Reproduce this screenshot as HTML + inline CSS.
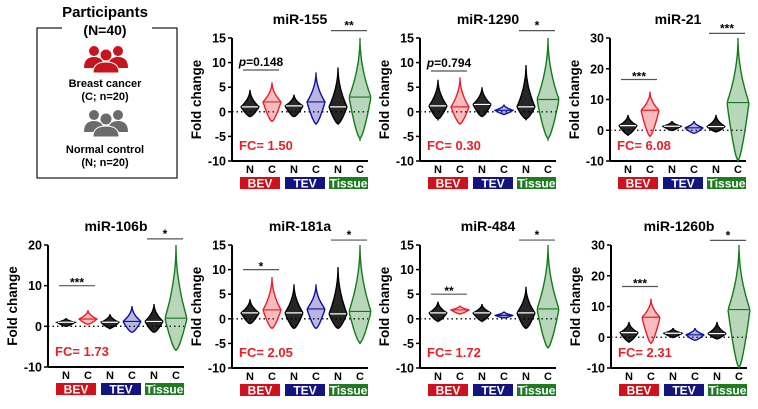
<!DOCTYPE html>
<html><head><meta charset="utf-8"><style>
body{margin:0;background:#fff}
svg{display:block;font-family:"Liberation Sans",Arial,sans-serif;font-weight:bold}
</style></head><body>
<svg id="fig" width="758" height="409" viewBox="0 0 758 409">
<g>
<path d="M62 28 H37 V178 H177 V28 H152" fill="none" stroke="#222" stroke-width="1.3"/>
<text x="105" y="17" text-anchor="middle" font-size="15">Participants</text>
<text x="105" y="35" text-anchor="middle" font-size="14">(N=40)</text>
<g fill="#c8141c">
<circle cx="94" cy="51" r="5"/><circle cx="118" cy="51" r="5"/>
<path d="M84 68 Q84 57 94 57 Q104 57 104 68Z"/><path d="M108 68 Q108 57 118 57 Q128 57 128 68Z"/>
<circle cx="106" cy="55" r="6" stroke="#fff" stroke-width="1"/>
<path d="M93 73 Q93 62 106 62 Q119 62 119 73Z" stroke="#fff" stroke-width="1"/>
</g>
<text x="105" y="87" text-anchor="middle" font-size="11">Breast cancer</text>
<text x="105" y="100" text-anchor="middle" font-size="11">(C; n=20)</text>
<g fill="#6b6b6b">
<circle cx="94" cy="115" r="5"/><circle cx="118" cy="115" r="5"/>
<path d="M84 132 Q84 121 94 121 Q104 121 104 132Z"/><path d="M108 132 Q108 121 118 121 Q128 121 128 132Z"/>
<circle cx="106" cy="119" r="6" stroke="#fff" stroke-width="1"/>
<path d="M93 137 Q93 126 106 126 Q119 126 119 137Z" stroke="#fff" stroke-width="1"/>
</g>
<text x="105" y="153" text-anchor="middle" font-size="11">Normal control</text>
<text x="105" y="166" text-anchor="middle" font-size="11">(N; n=20)</text>
</g>
</svg>
<script>
const titles=["miR-155","miR-1290","miR-21","miR-106b","miR-181a","miR-484","miR-1260b"];
const fcLabels=["FC= 1.50","FC= 0.30","FC= 6.08","FC= 1.73","FC= 2.05","FC= 1.72","FC= 2.31"];
const yTicks=[[-10,-5,0,5,10,15],[-10,-5,0,5,10,15],[-10,0,10,20,30],[-10,0,10,20],[-10,-5,0,5,10,15],[-10,-5,0,5,10,15],[-10,0,10,20,30]];
const groupLabels=["N","C","N","C","N","C"];
const mins=[[-1,-2,-1,-2.5,-2.5,-5.5],[-1.5,-2.5,-1,-0.5,-1.5,-5.5],[-1.5,-2,0,-1,-0.5,-10],[0,0.5,-0.5,-1.5,-1.5,-6],[-1,-2,-2,-2,-2,-5],[-0.5,1,-0.5,0.2,-2,-6],[-1.5,-2,0,-1,-0.5,-10]];
const maxs=[[4.5,6,3.5,8,9,15],[6.5,7,5,1.5,9.5,15],[5,12.5,3,3,5,30],[2,4,3,5,5.5,20],[4,8.5,7,7,10.5,15],[3.5,2.7,3,1.5,6.5,15],[5,12.5,3,3,5,30]];
const medians=[[1,2,1.2,2,1,3],[1.2,1,1.5,0.3,1,2.5],[1.5,6.5,1.3,0.8,1.2,9],[1,1.8,1,1.2,1.2,2],[1.2,1.8,1.2,2,1,1.5],[1.2,1.8,1.2,0.7,1.2,2],[1.5,6.5,1.3,0.8,1.2,9]];
const bevSigText=["p=0.148","p=0.794","***","***","*","**","***"];
const bevSigY=[8.5,8.3,16.5,10,10,5,16.5];
const tisSigText=["**","*","***","*","*","*","*"];
const tisSigY=[16.5,16.5,31.5,21.5,16,16,31.5];
const panelPos=[[232,38,161],[420,38,161],[610,38,161],[48,245,367],[232,245,368],[420,245,368],[611,245,368]];
const colors=["#000","#e8202a","#000","#1010a0","#000","#137a1c"];
const boxes=[["BEV","#d0101c",8,48],["TEV","#141480",53,93],["Tissue","#1f7a22",97,136]];
const NS="http://www.w3.org/2000/svg";
const svg=document.getElementById('fig');
function mk(tag,attrs,parent,text){const e=document.createElementNS(NS,tag);for(const k in attrs)e.setAttribute(k,attrs[k]);if(text!==undefined)e.textContent=text;parent.appendChild(e);return e;}
titles.forEach((t,p)=>{
  const [ax,top,bot]=panelPos[p];const ticks=yTicks[p];
  const lo=ticks[0],hi=ticks[ticks.length-1];
  const y=v=>bot-(v-lo)/(hi-lo)*(bot-top);
  const gx=i=>ax+18+i*22;
  const g=mk('g',{},svg);
  
  
  const tt=mk('text',{x:ax+68,y:top-14,'text-anchor':'middle','font-size':14},g,t);
  
  
  mk('line',{x1:ax,y1:top,x2:ax,y2:bot,stroke:'#000','stroke-width':2},g);
  mk('line',{x1:ax,y1:bot,x2:ax+136,y2:bot,stroke:'#000','stroke-width':2},g);
  ticks.forEach(v=>{
    mk('line',{x1:ax-4,y1:y(v),x2:ax,y2:y(v),stroke:'#000','stroke-width':1.5},g);
    const tl=mk('text',{x:ax-6,y:y(v)+4.5,'text-anchor':'end','font-size':12.5},g,String(v));
    
    
  });
  const yl=mk('text',{x:0,y:0,transform:`translate(${ax-31},${(top+bot)/2}) rotate(-90)`,'text-anchor':'middle','font-size':13.5},g,'Fold change');
  
  
  mk('line',{x1:ax,y1:y(0),x2:ax+136,y2:y(0),stroke:'#000','stroke-width':1.3,'stroke-dasharray':'1.5,3'},g);
  for(let i=0;i<6;i++){
    const mn=mins[p][i],mx=maxs[p][i],md=medians[p][i];const cx=gx(i);const w=(mx-mn)>(hi-lo)*0.5?11:9;
    const pts=[];const n=30;
    for(let k=0;k<=n;k++){const v=mn+(mx-mn)*k/n;let f;
      if(v<=md)f=Math.pow((v-mn)/Math.max(md-mn,1e-6),0.7);else f=Math.pow((mx-v)/Math.max(mx-md,1e-6),2.0);
      pts.push([v,w*f]);}
    let d='M'+cx+' '+y(mn);
    pts.forEach(q=>d+=' L'+(cx+q[1]).toFixed(1)+' '+y(q[0]).toFixed(1));
    for(let k=pts.length-1;k>=0;k--)d+=' L'+(cx-pts[k][1]).toFixed(1)+' '+y(pts[k][0]).toFixed(1);
    d+='Z';
    const vi=mk('path',{d:d,fill:colors[i],'fill-opacity':i%2==0?0.85:0.3,stroke:colors[i],'stroke-width':1.4},g);
    
    
    mk('line',{x1:cx-w*0.9,y1:y(md),x2:cx+w*0.9,y2:y(md),stroke:i%2==0?'#fff':colors[i],'stroke-width':1.2},g);
    const gl=mk('text',{x:cx,y:bot+12,'text-anchor':'middle','font-size':11},g,groupLabels[i]);
    
    
  }
  boxes.forEach(b=>{
    const r=mk('rect',{x:ax+b[2],y:bot+16,width:b[3]-b[2],height:12,fill:b[1]},g);
    
    
    mk('text',{x:ax+(b[2]+b[3])/2,y:bot+26.5,'text-anchor':'middle','font-size':12,fill:'#fff'},g,b[0]);
  });
  const s1=y(bevSigY[p]);
  mk('line',{x1:gx(0)-7,y1:s1,x2:gx(1)+7,y2:s1,stroke:'#555','stroke-width':1.2},g);
  const bt=bevSigText[p];
  const st=mk('text',{x:(gx(0)+gx(1))/2,y:bt.startsWith('p')?s1-4:s1+1,'text-anchor':'middle','font-size':12},g);
  
  
  if(bt.startsWith('p')){mk('tspan',{'font-style':'italic'},st,'p');mk('tspan',{},st,bt.slice(1));}else st.textContent=bt;
  const s2=y(tisSigY[p]);
  mk('line',{x1:gx(4)-7,y1:s2,x2:gx(5)+7,y2:s2,stroke:'#555','stroke-width':1.2},g);
  const t2=mk('text',{x:(gx(4)+gx(5))/2,y:s2-1,'text-anchor':'middle','font-size':12},g,tisSigText[p]);
  
  
  const fc=mk('text',{x:ax+7,y:bot-11,'font-size':13,fill:'#e8202a'},g,fcLabels[p]);
  
  
});
</script>
</body></html>
